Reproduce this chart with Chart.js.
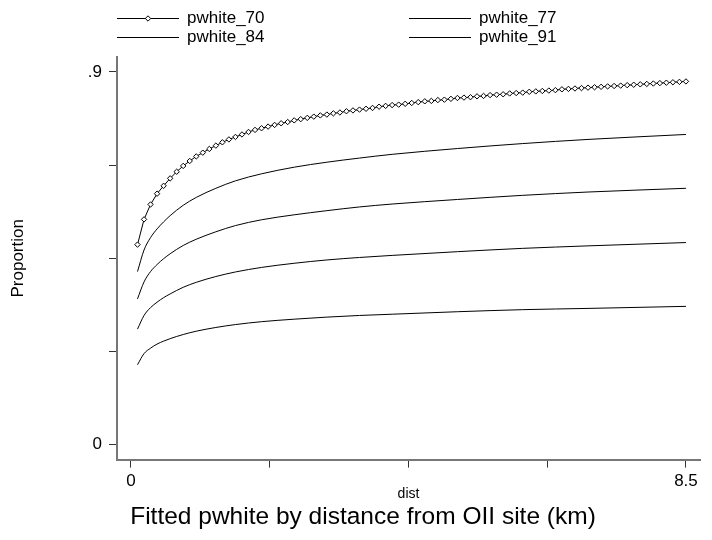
<!DOCTYPE html>
<html>
<head>
<meta charset="utf-8">
<script src="https://cdn.jsdelivr.net/npm/chart.js@4.4.1/dist/chart.umd.min.js"></script>
<style>
  html, body { margin: 0; padding: 0; background: #fff; }
  #wrap { width: 712px; height: 540px; }
</style>
</head>
<body>
<div id="wrap"><canvas id="fitChart" width="712" height="540"></canvas></div>
<script>
// distance grid of the fitted curve with markers (km)
const dist = [
  0.1, 0.2, 0.3, 0.4, 0.5, 0.6, 0.7, 0.8, 0.9, 1.0,
  1.1, 1.2, 1.3, 1.4, 1.5, 1.6, 1.7, 1.8, 1.9, 2.0,
  2.1, 2.2, 2.3, 2.4, 2.5, 2.6, 2.7, 2.8, 2.9, 3.0,
  3.1, 3.2, 3.3, 3.4, 3.5, 3.6, 3.7, 3.8, 3.9, 4.0,
  4.1, 4.2, 4.3, 4.4, 4.5, 4.6, 4.7, 4.8, 4.9, 5.0,
  5.1, 5.2, 5.3, 5.4, 5.5, 5.6, 5.7, 5.8, 5.9, 6.0,
  6.1, 6.2, 6.3, 6.4, 6.5, 6.6, 6.7, 6.8, 6.9, 7.0,
  7.1, 7.2, 7.3, 7.4, 7.5, 7.6, 7.7, 7.8, 7.9, 8.0,
  8.1, 8.2, 8.3, 8.4, 8.5
];
const pwhite70 = [
  0.483, 0.544, 0.580, 0.606, 0.625, 0.643, 0.659, 0.673, 0.685, 0.696,
  0.705, 0.714, 0.722, 0.730, 0.737, 0.743, 0.749, 0.755, 0.760, 0.764,
  0.768, 0.772, 0.776, 0.779, 0.783, 0.786, 0.789, 0.792, 0.795, 0.797,
  0.800, 0.802, 0.805, 0.807, 0.809, 0.811, 0.813, 0.816, 0.818, 0.820,
  0.821, 0.823, 0.825, 0.827, 0.829, 0.830, 0.832, 0.833, 0.835, 0.837,
  0.838, 0.839, 0.841, 0.842, 0.844, 0.845, 0.846, 0.848, 0.849, 0.850,
  0.852, 0.853, 0.854, 0.855, 0.856, 0.858, 0.859, 0.860, 0.861, 0.862,
  0.863, 0.864, 0.865, 0.866, 0.867, 0.868, 0.869, 0.870, 0.871, 0.872,
  0.873, 0.874, 0.875, 0.876, 0.877
];

// the plain lines, read at fewer distances
const distLines = [0.1, 0.2, 0.3, 0.4, 0.5, 0.6, 0.8, 1.0, 1.3, 1.6, 2.0, 2.5, 3.0, 3.5, 4.0, 5.0, 6.0, 7.0, 8.5];
const pwhite77 = [0.418, 0.470, 0.500, 0.521, 0.538, 0.553, 0.578, 0.597, 0.619, 0.637, 0.654, 0.670, 0.682, 0.692, 0.701, 0.715, 0.727, 0.737, 0.749];
const pwhite84 = [0.352, 0.393, 0.418, 0.435, 0.449, 0.461, 0.481, 0.496, 0.514, 0.529, 0.543, 0.555, 0.565, 0.574, 0.581, 0.592, 0.602, 0.610, 0.619];
const pwhite91 = [0.279, 0.312, 0.331, 0.344, 0.355, 0.364, 0.380, 0.392, 0.406, 0.417, 0.428, 0.438, 0.446, 0.452, 0.457, 0.466, 0.474, 0.480, 0.488];
const pwhite98 = [0.193, 0.220, 0.233, 0.243, 0.250, 0.256, 0.266, 0.274, 0.283, 0.290, 0.297, 0.303, 0.308, 0.312, 0.315, 0.321, 0.326, 0.329, 0.334];

const xTicks = [0, 2.125, 4.25, 6.375, 8.5];
const xTickLabels = ['0', '', '', '', '8.5'];
const yTicks = [0, 0.225, 0.45, 0.675, 0.9];
const yTickLabels = ['0', '', '', '', '.9'];

const FONT = '"Liberation Sans", Arial, Helvetica, sans-serif';

const pts = (xs, ys) => xs.map((x, i) => ({ x: x, y: ys[i] }));

// legend drawn in two columns at the top, like the Stata key
const topKey = {
  id: 'topKey',
  afterDraw(chart) {
    const ctx = chart.ctx;
    chart.data.datasets.slice(0, 4).forEach((ds, i) => {
      const col = i % 2, row = Math.floor(i / 2);
      const x0 = [117, 409][col];
      const x1 = x0 + 62;
      const y = [18.5, 37.5][row];
      ctx.save();
      ctx.strokeStyle = '#000';
      ctx.lineWidth = 1;
      ctx.beginPath();
      ctx.moveTo(x0, y);
      ctx.lineTo(x1, y);
      ctx.stroke();
      if (ds.pointRadius > 0) {
        ctx.fillStyle = '#fff';
        Chart.helpers.drawPoint(ctx, { pointStyle: 'rectRot', radius: ds.pointRadius, borderWidth: 1 }, (x0 + x1) / 2, y);
      }
      ctx.fillStyle = '#000';
      ctx.font = '17px ' + FONT;
      ctx.textBaseline = 'middle';
      ctx.fillText(ds.label, x1 + 8, y);
      ctx.restore();
    });
  }
};

const lineDs = (label, data) => ({
  label: label,
  data: data,
  borderColor: '#000',
  borderWidth: 1,
  pointRadius: 0,
  fill: false,
  cubicInterpolationMode: 'monotone'
});

const ctx = document.getElementById('fitChart').getContext('2d');
new Chart(ctx, {
  type: 'line',
  data: {
    datasets: [
      {
        label: 'pwhite_70',
        data: pts(dist, pwhite70),
        borderColor: '#000',
        borderWidth: 1,
        pointStyle: 'rectRot',
        pointRadius: 2.7,
        pointBackgroundColor: '#fff',
        pointBorderColor: '#000',
        pointBorderWidth: 1,
        tension: 0,
        fill: false
      },
      lineDs('pwhite_77', pts(distLines, pwhite77)),
      lineDs('pwhite_84', pts(distLines, pwhite84)),
      lineDs('pwhite_91', pts(distLines, pwhite91)),
      lineDs('pwhite_98', pts(distLines, pwhite98))
    ]
  },
  options: {
    responsive: false,
    animation: false,
    devicePixelRatio: 1,
    layout: { padding: { top: 57, right: 12, left: 26, bottom: 0 } },
    plugins: {
      legend: { display: false },
      tooltip: { enabled: false },
      title: {
        display: true,
        position: 'bottom',
        text: 'Fitted pwhite by distance from OII site (km)',
        color: '#000',
        font: { family: FONT, size: 24.5, weight: 'normal' },
        padding: { top: 0, bottom: 8 }
      }
    },
    scales: {
      x: {
        type: 'linear',
        min: -0.214,
        max: 8.715,
        afterFit: (s) => { s.height = 43; },
        afterBuildTicks: (s) => { s.ticks = xTicks.map(v => ({ value: v })); },
        ticks: {
          autoSkip: false,
          maxRotation: 0,
          padding: 4,
          color: '#000',
          font: { family: FONT, size: 17 },
          callback: (v) => xTickLabels[xTicks.indexOf(v)] ?? ''
        },
        grid: { drawOnChartArea: false, drawTicks: true, tickLength: 8, tickColor: '#333' },
        border: { display: true, color: '#777', width: 2 },
        title: {
          display: true,
          text: 'dist',
          color: '#000',
          font: { family: FONT, size: 14 },
          padding: { top: 0, bottom: 0 }
        }
      },
      y: {
        min: -0.036,
        max: 0.936,
        afterFit: (s) => { s.width = 91; },
        afterBuildTicks: (s) => { s.ticks = yTicks.map(v => ({ value: v })); },
        ticks: {
          autoSkip: false,
          padding: 7,
          color: '#000',
          font: { family: FONT, size: 17 },
          callback: (v) => yTickLabels[yTicks.indexOf(v)] ?? ''
        },
        grid: { drawOnChartArea: false, drawTicks: true, tickLength: 8, tickColor: '#333' },
        border: { display: true, color: '#777', width: 2 },
        title: {
          display: true,
          text: 'Proportion',
          color: '#000',
          font: { family: FONT, size: 17 },
          padding: { top: -18, bottom: 0 }
        }
      }
    }
  },
  plugins: [topKey]
});
</script>
</body>
</html>
